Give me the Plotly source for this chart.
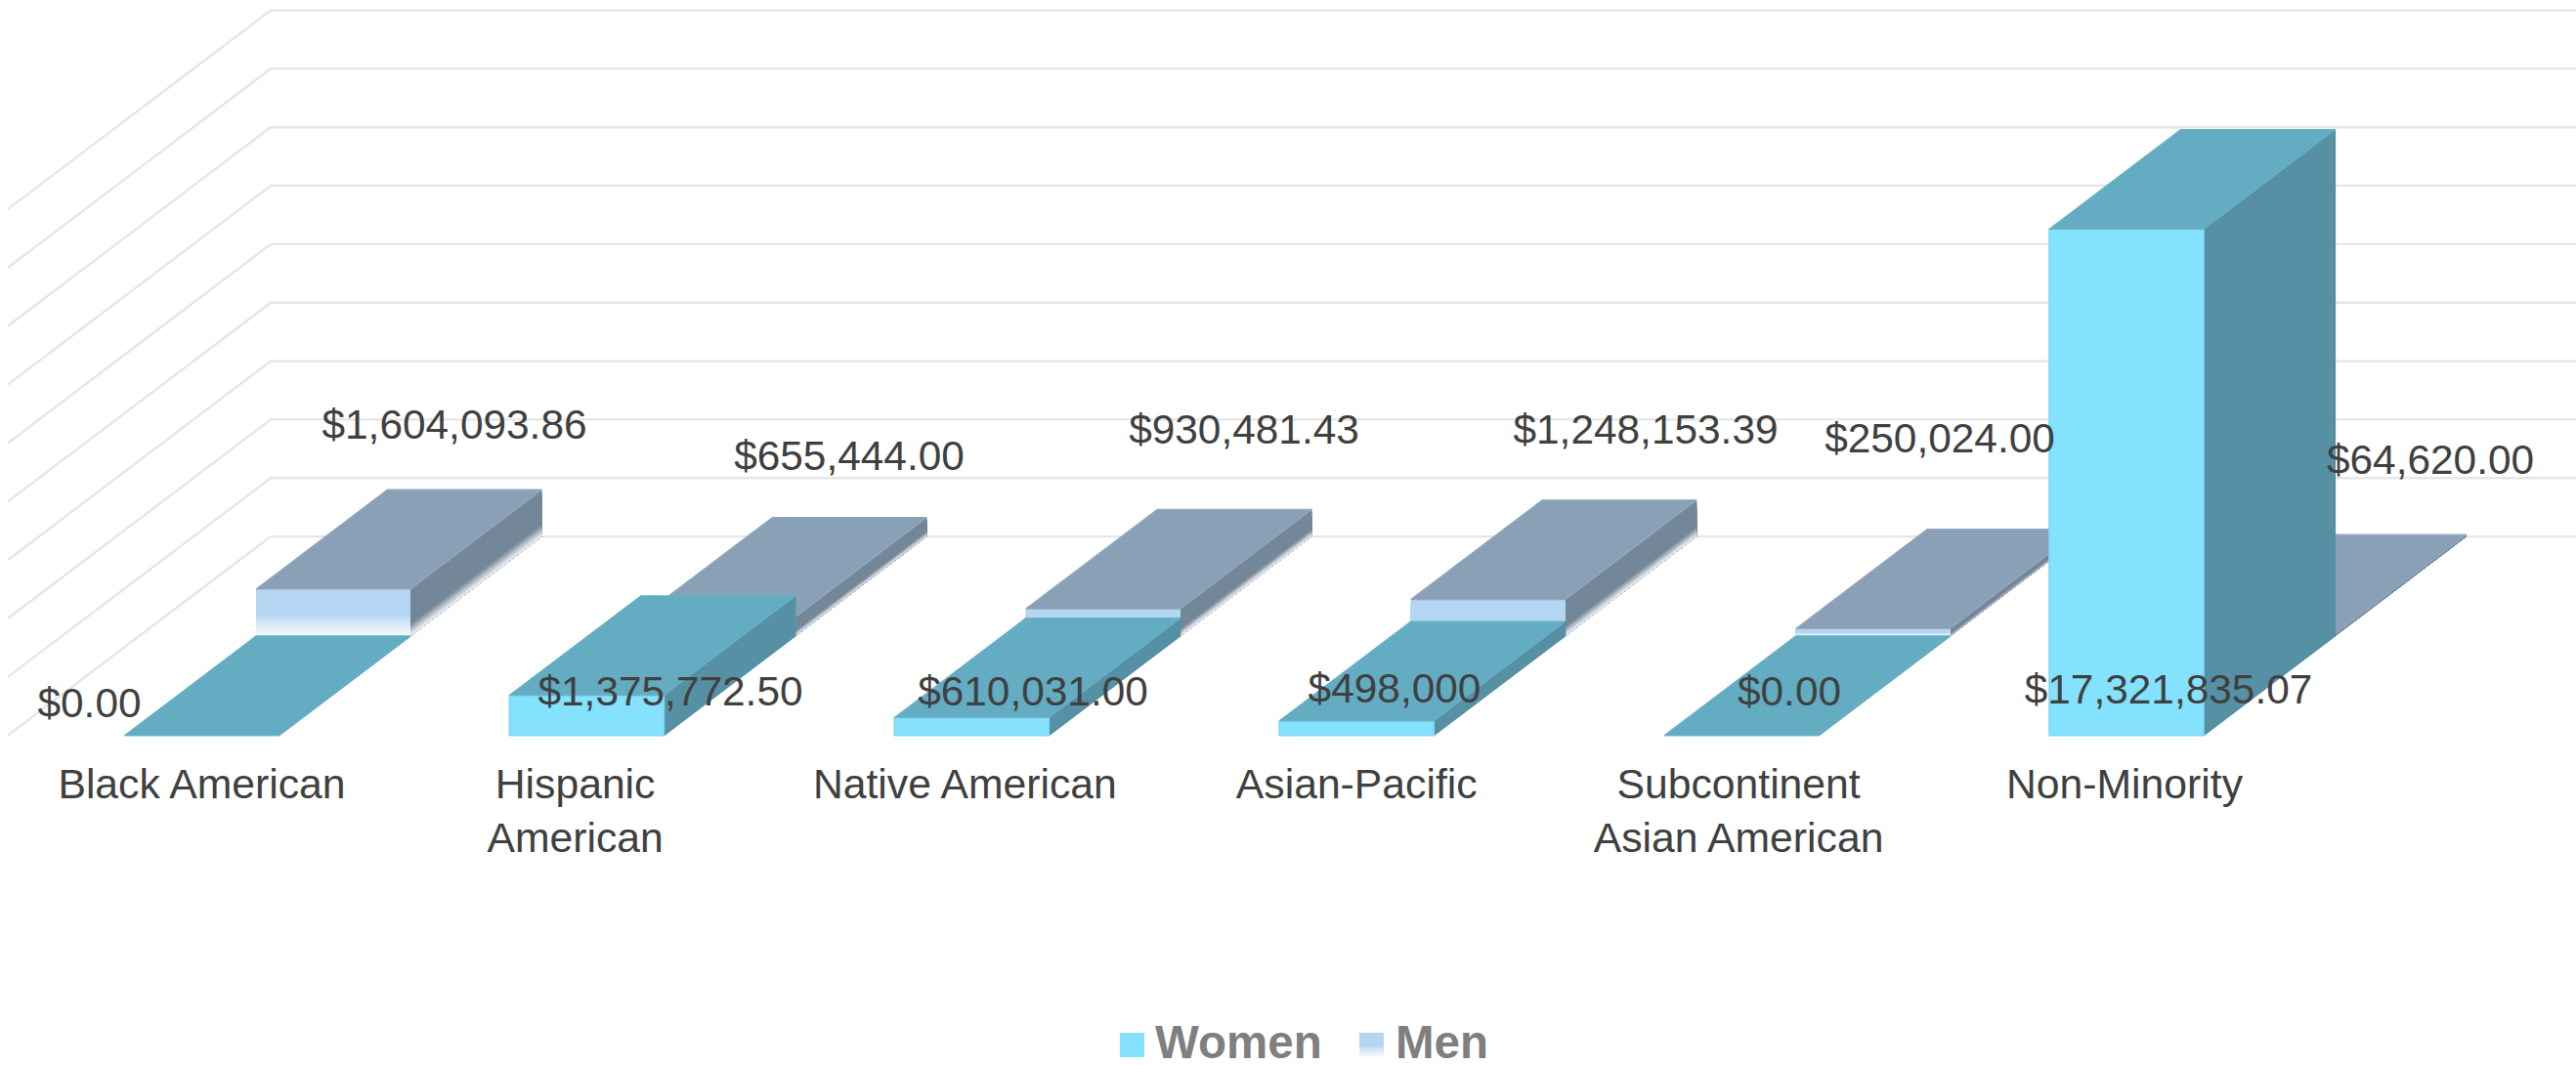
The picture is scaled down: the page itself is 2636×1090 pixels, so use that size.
import plotly.graph_objects as go

# ---- data ----
categories = ["Black American", "Hispanic<br>American", "Native American", "Asian-Pacific",
              "Subcontinent<br>Asian American", "Non-Minority"]
women = [0.00, 1375772.50, 610031.00, 498000.00, 0.00, 17321835.07]
men = [1604093.86, 655444.00, 930481.43, 1248153.39, 250024.00, 64620.00]
women_labels = ["$0.00", "$1,375,772.50", "$610,031.00", "$498,000", "$0.00", "$17,321,835.07"]
men_labels = ["$1,604,093.86", "$655,444.00", "$930,481.43", "$1,248,153.39", "$250,024.00", "$64,620.00"]
wall_ticks = [0, 2e6, 4e6, 6e6, 8e6, 10e6, 12e6, 14e6, 16e6, 18e6]
series_names = ["Women", "Men"]

# ---- plot geometry ----
W, H = 2636, 1090
PX_PER_CAT = 393.9
PX_PER_DOLLAR = 29.92e-6
X0_PX = 206.5      # pixel of category 0, front face centre
Y0_PX = 752.7      # pixel of value 0, front
AXIS_BOTTOM_PX = 773
BAR_HALF = 158 / 2 / PX_PER_CAT
DEPTH_X = 134.5 / PX_PER_CAT          # one bar depth, in category units
DEPTH_Y = 101.8 / PX_PER_DOLLAR       # one bar depth, in dollars
X_RANGE = [-X0_PX / PX_PER_CAT, (W - X0_PX) / PX_PER_CAT]
Y_RANGE = [(Y0_PX - AXIS_BOTTOM_PX) / PX_PER_DOLLAR, Y0_PX / PX_PER_DOLLAR]
TICK_SHIFT_PX = [0, -11.8, -7, 0, -3, -2]

TEXT = "#404040"
FONT = "Liberation Sans"


def proj(x, v, z):
    return x + z * DEPTH_X, v + z * DEPTH_Y


def mix(c1, c2, t):
    a = [int(c1[i:i + 2], 16) for i in (1, 3, 5)]
    b = [int(c2[i:i + 2], 16) for i in (1, 3, 5)]
    return "#%02x%02x%02x" % tuple(round(a[i] + (b[i] - a[i]) * t) for i in range(3))


def ramp(stops, f):
    for (f1, c1), (f2, c2) in zip(stops, stops[1:]):
        if f <= f2:
            return mix(c1, c2, (f - f1) / (f2 - f1) if f2 > f1 else 0)
    return stops[-1][1]


fig = go.Figure()


def poly(pts, color, line=None, lw=1.2):
    xs = [p[0] for p in pts] + [pts[0][0]]
    ys = [p[1] for p in pts] + [pts[0][1]]
    fig.add_trace(go.Scatter(x=xs, y=ys, mode="lines", fill="toself", fillcolor=color,
                             line=dict(color=line or color, width=lw if line else 0),
                             hoverinfo="skip", showlegend=False))


def front(i, v, z):
    l, r = i - BAR_HALF, i + BAR_HALF
    return [proj(l, 0, z), proj(r, 0, z), proj(r, v, z), proj(l, v, z)]


def side(i, v0, v1, z):
    r = i + BAR_HALF
    return [proj(r, v0, z), proj(r, v0, z + 1), proj(r, v1, z + 1), proj(r, v1, z)]


def top(i, v, z):
    l, r = i - BAR_HALF, i + BAR_HALF
    return [proj(l, v, z), proj(r, v, z), proj(r, v, z + 1), proj(l, v, z + 1)]


# ---- walls ----
WALL_LEFT = (8 - X0_PX) / PX_PER_CAT
for t in wall_ticks:
    p0 = proj(WALL_LEFT, t, 0)
    p1 = proj(WALL_LEFT, t, 2)
    fig.add_trace(go.Scatter(x=[p0[0], p1[0], X_RANGE[1]], y=[p0[1], p1[1], p1[1]], mode="lines",
                             line=dict(color="#e6e6e6", width=2.4), hoverinfo="skip", showlegend=False))

# ---- men (back row) ----
MEN_FRONT = [(0, "#b4d6f2"), (0.55, "#b4d6f2"), (0.65, "#cfe3f6"), (1, "#fafcfe")]
MEN_SIDE = [(0, "#748799"), (0.72, "#748799"), (1, "#ffffff")]
STRIPS = 24
for i, v in enumerate(men):
    l, r = i - BAR_HALF, i + BAR_HALF
    for k in range(STRIPS):
        f = k / STRIPS
        vt = v * (1 - f)
        poly([proj(r, 0, 1), proj(r, 0, 2), proj(r, vt, 2), proj(r, vt, 1)], ramp(MEN_SIDE, f))
    for k in range(STRIPS):
        f = k / STRIPS
        vt = v * (1 - f)
        poly([proj(l, 0, 1), proj(r, 0, 1), proj(r, vt, 1), proj(l, vt, 1)], ramp(MEN_FRONT, f))
    poly(top(i, v, 1), "#8aa0b6", "#93a8bd")

# ---- women (front row) ----
for i, v in enumerate(women):
    poly(side(i, 0, v, 0), "#5590a4", "#5590a4")
    poly(front(i, v, 0), "#84e2ff", "#7fd8f2", 1.6)
    poly(top(i, v, 0), "#64acc2", "#6ab1c6")

# ---- data labels ----
men_label_px = [(465, 438), (869, 470), (1273, 443), (1684, 443), (1985, 452), (2487, 474)]
women_label_px = [(91.5, 723), (686, 711), (1057, 711), (1427, 708), (1831, 711), (2219, 709)]
lab_x = [(p[0] - X0_PX) / PX_PER_CAT for p in men_label_px + women_label_px]
lab_y = [(Y0_PX - p[1]) / PX_PER_DOLLAR for p in men_label_px + women_label_px]
fig.add_trace(go.Scatter(x=lab_x, y=lab_y, mode="text", text=men_labels + women_labels,
                         textposition="middle center", cliponaxis=False,
                         textfont=dict(family=FONT, size=42.4, color=TEXT),
                         hoverinfo="skip", showlegend=False))


# ---- legend: squares and labels placed in figure space ----
def swatch(x_px, y_px, size, color_at, n=1):
    out = []
    for k in range(n):
        y0 = y_px + size * k / n
        y1 = y_px + size * (k + 1) / n if k == n - 1 else y_px + size * (k + 1) / n + 0.6
        out.append(dict(type="rect", xref="paper", yref="paper", layer="above",
                        x0=x_px / W, x1=(x_px + size) / W,
                        y0=(AXIS_BOTTOM_PX - y0) / AXIS_BOTTOM_PX,
                        y1=(AXIS_BOTTOM_PX - y1) / AXIS_BOTTOM_PX,
                        fillcolor=color_at((k + 0.5) / n), line=dict(width=0)))
    return out


shapes = swatch(1146, 1057, 25, lambda f: "#84e2ff") + swatch(1391, 1057, 25, lambda f: ramp(MEN_FRONT, f), 25)
legend_text_px = [1181, 1427]
annotations = [dict(text=name, xref="paper", yref="paper", x=xp / W,
                    y=(AXIS_BOTTOM_PX - 1066) / AXIS_BOTTOM_PX, xanchor="left", yanchor="middle",
                    showarrow=False, borderpad=0,
                    font=dict(family=FONT, size=47.5, color="#7f7f7f", weight=700))
               for name, xp in zip(series_names, legend_text_px)]

fig.update_layout(
    width=W, height=H, margin=dict(l=0, r=0, t=0, b=H - AXIS_BOTTOM_PX, autoexpand=False),
    paper_bgcolor="white", plot_bgcolor="white", font=dict(family=FONT, color=TEXT),
    hovermode=False, shapes=shapes, annotations=annotations, showlegend=False,
    xaxis=dict(range=X_RANGE, showgrid=False, zeroline=False, showline=False, ticks="",
               tickmode="array",
               tickvals=[i + s / PX_PER_CAT for i, s in enumerate(TICK_SHIFT_PX)], ticktext=categories,
               tickfont=dict(family=FONT, size=42.7, color=TEXT), tickangle=0, automargin=False,
               fixedrange=True),
    yaxis=dict(range=Y_RANGE, showgrid=False, zeroline=False, showline=False,
               showticklabels=False, ticks="", automargin=False, fixedrange=True),
)

fig.write_html("out.html", config=dict(displayModeBar=False),
               post_script="document.body.style.margin='0';document.body.style.overflow='hidden';")
